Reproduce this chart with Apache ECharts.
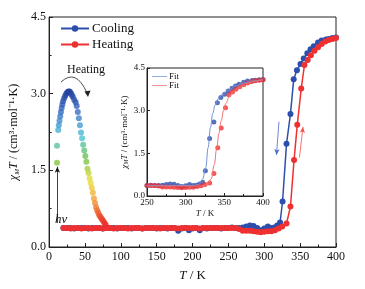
<!DOCTYPE html>
<html>
<head>
<meta charset="utf-8">
<script src="https://cdn.jsdelivr.net/npm/echarts@6/dist/echarts.min.js"></script>
<style>
  html, body { margin: 0; padding: 0; background: #fff; }
  #chart { width: 365px; height: 289px; }
</style>
</head>
<body>
<div id="chart"></div>
<script>
// cooling branch, 400 K -> 20 K
var coolT = [400,395,390,386,380,375,369,364.5,360,355,350.5,345.5,341,336.5,331,325.5,322,318,314,310,
  305,300,295,290,285,280,275,270,265,260,255,250,245,240,235,230,225,220,215,210,
  205,200,195,190,185,180,175,170,165,160,155,150,145,140,135,130,125,120,115,110,
  105,100,95,90,85,80,75,70,65,60,55,50,45,40,35,30,25,20];
var coolV = [4.10,4.09,4.07,4.06,4.04,4.00,3.93,3.87,3.79,3.69,3.58,3.46,3.28,2.60,2.02,0.89,0.48,0.42,0.38,0.37,
  0.40,0.36,0.33,0.37,0.41,0.42,0.40,0.38,0.37,0.37,0.38,0.37,0.37,0.36,0.37,0.37,0.37,0.36,0.37,0.33,
  0.37,0.36,0.33,0.37,0.36,0.32,0.37,0.37,0.36,0.37,0.37,0.36,0.37,0.37,0.37,0.36,0.37,0.37,0.36,0.37,
  0.37,0.37,0.36,0.37,0.37,0.37,0.36,0.37,0.37,0.37,0.36,0.37,0.37,0.37,0.36,0.37,0.37,0.37];

// heating branch, 20 K -> 400 K
var heatT = [20,25,30,35,40,45,50,55,60,65,70,75,80,85,90,95,100,105,110,115,
  120,125,130,135,140,145,150,155,160,165,170,175,180,185,190,195,200,205,210,215,
  220,225,230,235,240,245,250,255,260,265,270,275,280,285,290,295,300,305,310,315,
  320,325,331,336.5,341.5,346,351.5,356,360.5,365,370,375,380,385,390,395,400];
var heatV = [0.37,0.37,0.36,0.37,0.37,0.36,0.37,0.37,0.36,0.37,0.37,0.36,0.37,0.37,0.36,0.37,0.37,0.37,0.36,0.37,
  0.37,0.37,0.36,0.37,0.37,0.37,0.37,0.36,0.37,0.37,0.37,0.37,0.36,0.37,0.37,0.37,0.37,0.37,0.36,0.37,
  0.37,0.37,0.37,0.37,0.37,0.37,0.37,0.37,0.37,0.35,0.32,0.32,0.32,0.31,0.30,0.29,0.30,0.31,0.31,0.33,
  0.36,0.40,0.46,0.79,1.70,2.39,3.10,3.56,3.66,3.75,3.84,3.91,3.97,4.02,4.05,4.07,4.09];

// photo-induced (h-nu) state, heated from 10 K
var liesstT = [11,11,12.7,13.5,14.5,15.5,16.5,17.5,18.5,19.5,21,22.5,24,25.5,27,28.5,30,31.5,33,35,
  37,38.5,40,41.5,43,44.5,46,47.5,49,50.5,52,53.5,55,56.5,58,59.5,61,62.5,64,65.5,
  67,68.5,70,71.5,73,74.5,76,77.5,79];
var liesstV = [1.65,1.98,2.29,2.38,2.47,2.56,2.64,2.72,2.79,2.85,2.91,2.96,3.00,3.03,3.04,3.04,3.02,2.98,2.94,2.88,
  2.83,2.76,2.64,2.52,2.38,2.24,2.13,2.00,1.89,1.78,1.67,1.53,1.45,1.34,1.25,1.16,1.06,0.95,0.86,0.78,
  0.72,0.67,0.62,0.59,0.56,0.53,0.50,0.46,0.43];

// fit curves in the inset
var fitCoolT = [250,310,318,322,326,329,332,335,338,342,348,355,365,375,385,400];
var fitCoolV = [0.37,0.37,0.42,0.60,1.00,1.70,2.40,2.90,3.20,3.42,3.58,3.72,3.87,3.97,4.04,4.10];
var fitHeatT = [250,320,328,333,337,340,343,346,349,352,356,362,370,380,390,400];
var fitHeatV = [0.35,0.35,0.42,0.60,1.10,1.65,2.20,2.65,3.00,3.25,3.48,3.68,3.85,3.97,4.04,4.08];

var BLUE = '#2c4fae', RED = '#ef3030';
var FONT = 'Liberation Serif';

function pts(t, v) { return t.map(function(x, i){ return [x, v[i]]; }); }
function inInset(p) { return p[0] >= 250; }

var chart = echarts.init(document.getElementById('chart'));

function yName(size) {
  return {
    name: '{i|χ}{s|M}{i|T} / (cm³·mol⁻¹·K)',
    nameTextStyle: {
      fontFamily: FONT, fontSize: size, color: '#111',
      rich: {
        i: {fontStyle: 'italic', fontFamily: FONT, fontSize: size},
        s: {fontStyle: 'italic', fontFamily: FONT, fontSize: Math.round(size * 0.62), verticalAlign: 'bottom', padding: [size * 0.45, 0, 0, 0]}
      }
    }
  };
}

var axisCommon = {
  axisLine: {onZero: false, lineStyle: {color: '#222', width: 1}},
  axisTick: {inside: true, length: 4, lineStyle: {color: '#222'}},
  minorTick: {show: true, splitNumber: 2, length: 2.5, lineStyle: {color: '#222'}},
  splitLine: {show: false}
};

var yMain = yName(12), yIn = yName(9);
var LINE_ICON = 'path://M0,0 L20,0 L20,1 L0,1 Z';

var option = {
  animation: false,
  textStyle: {fontFamily: FONT},
  grid: [
    {left: 44, right: 29, top: 17, bottom: 42, show: true, borderColor: '#222', borderWidth: 1},
    {left: 147, width: 116, top: 68, height: 128, show: true, borderColor: '#222', borderWidth: 1}
  ],
  legend: [
    {
      data: ['Cooling', 'Heating'], orient: 'vertical', left: 60, top: 22, itemGap: 3, padding: 0,
      itemWidth: 28, itemHeight: 8,
      textStyle: {fontFamily: FONT, fontSize: 13, color: '#111', padding: [0, 0, 0, -2]}
    },
    {
      data: [{name: 'Fit1', icon: LINE_ICON}, {name: 'Fit2', icon: LINE_ICON}],
      orient: 'vertical', left: 152, top: 72, itemGap: 0, padding: 0,
      itemWidth: 15, itemHeight: 1,
      formatter: function(){ return 'Fit'; },
      textStyle: {fontFamily: FONT, fontSize: 9, color: '#111', padding: [0, 0, 0, -3]}
    }
  ],
  xAxis: [
    Object.assign({
      gridIndex: 0, type: 'value', min: 0, max: 400, interval: 50,
      name: '{i|T} / K', nameLocation: 'middle', nameGap: 22,
      nameTextStyle: {fontFamily: FONT, fontSize: 13, color: '#111', rich: {i: {fontStyle: 'italic', fontFamily: FONT, fontSize: 13}}},
      axisLabel: {fontFamily: FONT, fontSize: 12, color: '#111', margin: 4}
    }, axisCommon),
    Object.assign({
      gridIndex: 1, type: 'value', min: 250, max: 400, interval: 50,
      name: '{i|T} / K', nameLocation: 'middle', nameGap: 13,
      nameTextStyle: {fontFamily: FONT, fontSize: 9, color: '#111', rich: {i: {fontStyle: 'italic', fontFamily: FONT, fontSize: 9}}},
      axisLabel: {fontFamily: FONT, fontSize: 9, color: '#111', margin: 2}
    }, axisCommon, {axisTick: {inside: true, length: 3, lineStyle: {color: '#222'}}, minorTick: {show: true, splitNumber: 2, length: 2, lineStyle: {color: '#222'}}})
  ],
  yAxis: [
    Object.assign({
      gridIndex: 0, type: 'value', min: 0, max: 4.5, interval: 1.5,
      nameLocation: 'middle', nameGap: 19, nameRotate: 90,
      axisLabel: {fontFamily: FONT, fontSize: 12, color: '#111', margin: 3, formatter: function(v){ return v.toFixed(1); }}
    }, axisCommon, yMain),
    Object.assign({
      gridIndex: 1, type: 'value', min: 0, max: 4.5, interval: 1.5,
      nameLocation: 'middle', nameGap: 16, nameRotate: 90,
      axisLabel: {fontFamily: FONT, fontSize: 9, color: '#111', margin: 2, formatter: function(v){ return v.toFixed(1); }}
    }, axisCommon, yIn, {axisTick: {inside: true, length: 3, lineStyle: {color: '#222'}}, minorTick: {show: false}})
  ],
  visualMap: {
    show: false, seriesIndex: 2, dimension: 1, min: 0.4, max: 3.05,
    inRange: {color: ['#e8262a', '#f28a30', '#ece23c', '#72c044', '#4cc6da', '#3a72c8', '#24409c']}
  },
  series: [
    {
      name: 'Cooling', type: 'line', xAxisIndex: 0, yAxisIndex: 0,
      data: pts(coolT, coolV), symbol: 'circle', symbolSize: 6,
      itemStyle: {color: BLUE}, lineStyle: {color: BLUE, width: 1.5},
      markLine: {
        silent: true, symbol: ['none', 'arrow'], symbolSize: [4, 6], label: {show: false},
        lineStyle: {color: '#4a6cc4', width: 0.8, type: 'solid'},
        data: [[{coord: [320.5, 2.45]}, {coord: [317, 1.80]}]]
      }
    },
    {
      name: 'Heating', type: 'line', xAxisIndex: 0, yAxisIndex: 0,
      data: pts(heatT, heatV), symbol: 'circle', symbolSize: 6,
      itemStyle: {color: RED}, lineStyle: {color: RED, width: 1.5},
      markLine: {
        silent: true, symbol: ['none', 'arrow'], symbolSize: [4, 6], label: {show: false},
        lineStyle: {color: '#f05050', width: 0.8, type: 'solid'},
        data: [
          [{coord: [349, 1.75]}, {coord: [354, 2.35]}],
          [{coord: [11.5, 0.47], lineStyle: {color: '#111'}}, {coord: [11.5, 1.57], lineStyle: {color: '#111'}}]
        ]
      }
    },
    {
      name: 'hv', type: 'scatter', xAxisIndex: 0, yAxisIndex: 0,
      data: pts(liesstT, liesstV), symbolSize: 6, z: 3
    },
    {
      name: 'Fit1', type: 'line', xAxisIndex: 1, yAxisIndex: 1,
      data: pts(fitCoolT, fitCoolV), symbol: 'none', smooth: 0.4, smoothMonotone: 'x',
      itemStyle: {color: '#6f8fd6'}, lineStyle: {color: '#6f8fd6', width: 1}
    },
    {
      name: 'Fit2', type: 'line', xAxisIndex: 1, yAxisIndex: 1,
      data: pts(fitHeatT, fitHeatV), symbol: 'none', smooth: 0.4, smoothMonotone: 'x',
      itemStyle: {color: '#f27070'}, lineStyle: {color: '#f27070', width: 1}
    },
    {
      name: 'CoolIn', type: 'scatter', xAxisIndex: 1, yAxisIndex: 1,
      data: pts(coolT, coolV).filter(inInset), symbolSize: 5, itemStyle: {color: BLUE}
    },
    {
      name: 'HeatIn', type: 'scatter', xAxisIndex: 1, yAxisIndex: 1,
      data: pts(heatT, heatV).filter(inInset), symbolSize: 5, itemStyle: {color: RED}
    }
  ],
  graphic: [
    {type: 'text', left: 67, top: 64, style: {text: 'Heating', font: '12px "Liberation Serif"', fill: '#111'}},
    {type: 'bezierCurve', shape: {x1: 61, y1: 82, x2: 87, y2: 93, cpx1: 76, cpy1: 68},
      style: {stroke: '#222', lineWidth: 0.8, fill: null}},
    {type: 'polygon', shape: {points: [[88, 97], [84.5, 91.5], [90.5, 90.5]]}, style: {fill: '#222'}},
    {type: 'text', left: 55, top: 213, style: {text: 'hν', font: 'italic 13px "Liberation Serif"', fill: '#111'}}
  ]
};

chart.setOption(option);
</script>
</body>
</html>
